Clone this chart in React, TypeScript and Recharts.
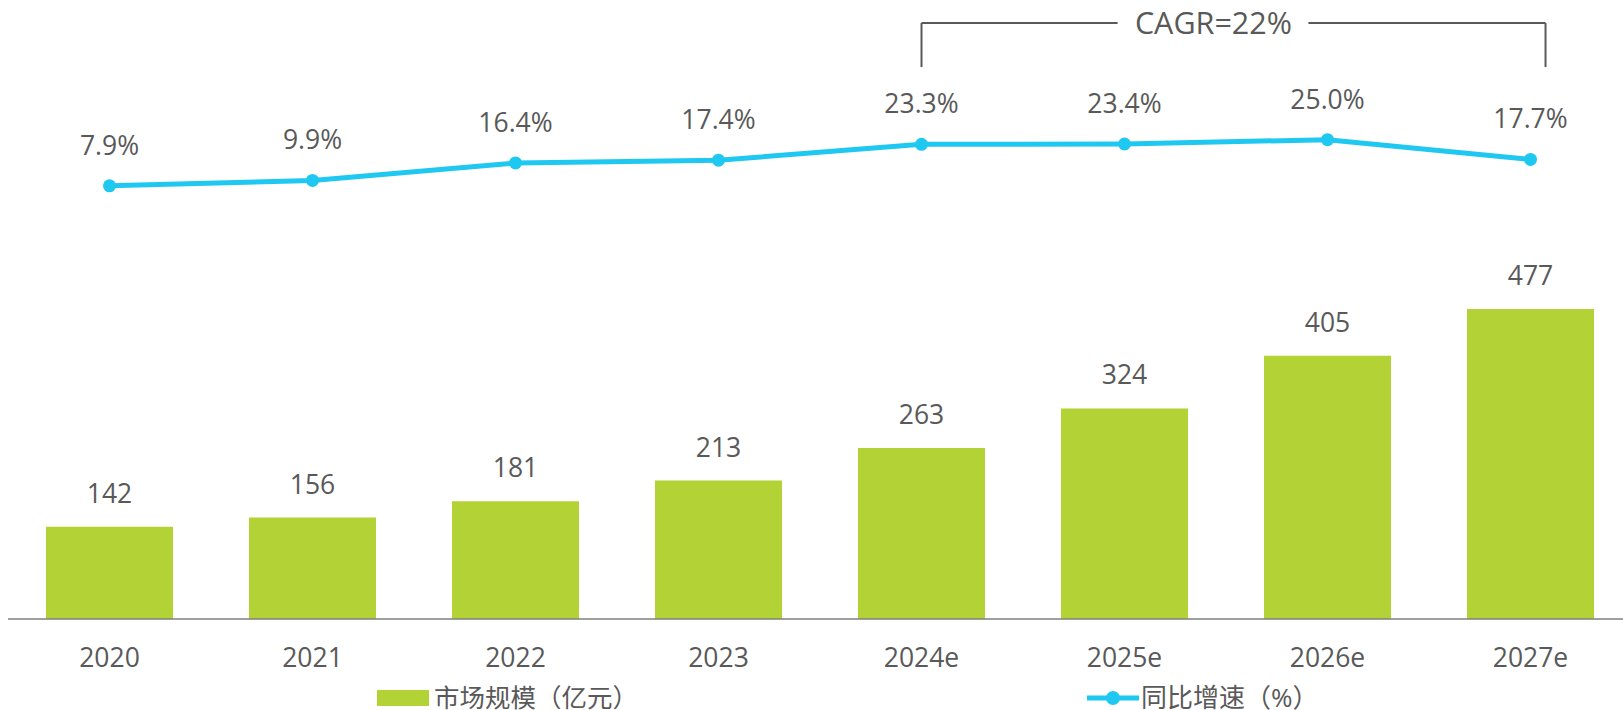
import React from 'react';
import {
  ComposedChart,
  Bar,
  Line,
  XAxis,
  YAxis,
  LabelList,
  Legend,
  ReferenceLine,
  ReferenceDot,
} from 'recharts';

// ---- data ----
const categories = ['2020', '2021', '2022', '2023', '2024e', '2025e', '2026e', '2027e'];
const marketSize = [142, 156, 181, 213, 263, 324, 405, 477];
const growthRate = [7.9, 9.9, 16.4, 17.4, 23.3, 23.4, 25.0, 17.7];
const barName = '市场规模（亿元）';
const lineName = '同比增速（%）';
const cagrText = 'CAGR=22%';
// bracket annotation, in category-index units (x) and growth-axis units (y)
const cagrFrom = 4;
const cagrTo = 7.074;
const cagrGapFrom = 4.966;
const cagrGapTo = 5.906;
const cagrTextAt = 5.438;
const cagrTop = 68.2;
const cagrBottom = 51.9;

const data = categories.map((c, i) => ({
  year: c,
  idx: i,
  size: marketSize[i],
  growth: growthRate[i],
}));

const W = 1624;
const H = 702;
const FONT = "'Open Sans', 'Noto Sans CJK SC', sans-serif";
const TEXT = '#595959';
const BAR = '#B2D235';
const LINE = '#1FC8F1';

const LegendContent = () => (
  <div style={{ position: 'relative', width: W, height: 32, fontFamily: FONT, color: TEXT }}>
    <div style={{ position: 'absolute', left: 369, top: 12, width: 52, height: 16, background: BAR }} />
    <div style={{ position: 'absolute', left: 426, top: 2, fontSize: 25.5, lineHeight: '35px', whiteSpace: 'nowrap' }}>{barName}</div>
    <svg style={{ position: 'absolute', left: 1079, top: 10 }} width={52} height={20}>
      <line x1={0} y1={10} x2={52} y2={10} stroke={LINE} strokeWidth={5} />
      <circle cx={26} cy={10} r={7} fill={LINE} />
    </svg>
    <div style={{ position: 'absolute', left: 1133, top: 2, fontSize: 26, lineHeight: '35px', whiteSpace: 'nowrap' }}>{lineName}</div>
  </div>
);

export default function App() {
  return (
    <div style={{ position: 'absolute', left: 8, top: 8, width: 1615, height: 702, overflow: 'hidden' }}>
      <ComposedChart
        width={W}
        height={H}
        data={data}
        margin={{ top: 12, right: 0, bottom: 0, left: 0 }}
        style={{ fontFamily: FONT }}
      >
        <XAxis
          xAxisId="cat"
          dataKey="year"
          interval={0}
          tickLine={false}
          axisLine={{ stroke: '#7F7F7F', strokeWidth: 1.5 }}
          tick={{ fill: TEXT, fontSize: 26.5, fontFamily: FONT }}
          tickMargin={23}
          height={59}
        />
        <XAxis xAxisId="num" dataKey="idx" type="number" domain={[-0.5, 7.5]} hide allowDataOverflow />
        <YAxis yAxisId="bar" domain={[0, 921.5]} hide allowDataOverflow />
        <YAxis yAxisId="line" domain={[-152.52, 69.33]} hide allowDataOverflow />
        <Bar xAxisId="cat" yAxisId="bar" dataKey="size" name={barName} fill={BAR} barSize={127} isAnimationActive={false}>
          <LabelList dataKey="size" position="top" offset={24} fill={TEXT} fontSize={26.5} fontFamily={FONT} />
        </Bar>
        <Line
          xAxisId="cat"
          yAxisId="line"
          dataKey="growth"
          name={lineName}
          stroke={LINE}
          strokeWidth={5}
          dot={{ r: 6.5, fill: LINE, stroke: LINE, strokeWidth: 0 }}
          activeDot={false}
          isAnimationActive={false}
        >
          <LabelList
            dataKey="growth"
            position="top"
            offset={31}
            fill={TEXT}
            fontSize={26.5}
            fontFamily={FONT}
            formatter={(v: any) => `${Number(v).toFixed(1)}%`}
          />
        </Line>
        <ReferenceLine xAxisId="num" yAxisId="line" ifOverflow="visible" stroke={TEXT} strokeWidth={2}
          segment={[{ x: cagrFrom, y: cagrBottom }, { x: cagrFrom, y: cagrTop }]} />
        <ReferenceLine xAxisId="num" yAxisId="line" ifOverflow="visible" stroke={TEXT} strokeWidth={2}
          segment={[{ x: cagrFrom, y: cagrTop }, { x: cagrGapFrom, y: cagrTop }]} />
        <ReferenceLine xAxisId="num" yAxisId="line" ifOverflow="visible" stroke={TEXT} strokeWidth={2}
          segment={[{ x: cagrGapTo, y: cagrTop }, { x: cagrTo, y: cagrTop }]} />
        <ReferenceLine xAxisId="num" yAxisId="line" ifOverflow="visible" stroke={TEXT} strokeWidth={2}
          segment={[{ x: cagrTo, y: cagrTop }, { x: cagrTo, y: cagrBottom }]} />
        <ReferenceDot
          xAxisId="num"
          yAxisId="line"
          x={cagrTextAt}
          y={cagrTop}
          r={0}
          fill="none"
          stroke="none"
          ifOverflow="visible"
          label={{ value: cagrText, position: 'center', fill: TEXT, fontSize: 30.5, fontFamily: FONT }}
        />
        <Legend verticalAlign="bottom" height={32} wrapperStyle={{ left: 0, width: W }} content={LegendContent} />
      </ComposedChart>
    </div>
  );
}
